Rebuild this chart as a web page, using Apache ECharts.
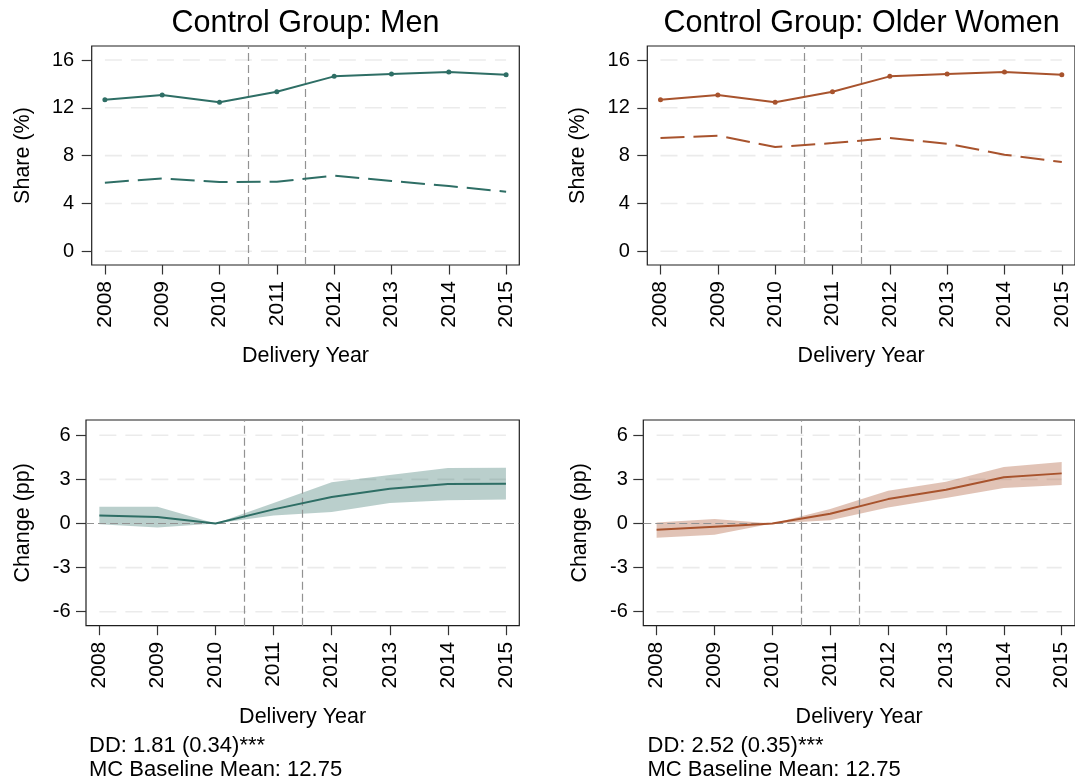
<!DOCTYPE html>
<html>
<head>
<meta charset="utf-8">
<script src="https://cdn.jsdelivr.net/npm/echarts@6/dist/echarts.min.js"></script>
<style>
  html, body { margin: 0; padding: 0; background: #fff; }
  #chart { width: 1075px; height: 782px; }
</style>
</head>
<body>
<div id="chart"></div>
<script>
// Delivery years and axis ticks
const years = [2008, 2009, 2010, 2011, 2012, 2013, 2014, 2015];
const shareTicks = [0, 4, 8, 12, 16];
const changeTicks = [-6, -3, 0, 3, 6];
const changeGridVals = [-6, -3, 3, 6];
const policyYears = [2010.5, 2011.5];

// Share (%) — treated group (solid) and the two control groups (dashed)
const treatedShare = [12.68, 13.07, 12.46, 13.35, 14.63, 14.82, 14.99, 14.77];
const menShare = [5.74, 6.10, 5.79, 5.82, 6.32, 5.88, 5.46, 4.98];
const olderWomenShare = [9.47, 9.67, 8.72, 9.05, 9.47, 9.00, 8.08, 7.47];

// Change (pp) relative to 2010, with confidence bands
const menChange = [0.55, 0.44, 0, 0.96, 1.80, 2.37, 2.68, 2.71];
const menLow = [-0.05, -0.27, 0, 0.55, 0.78, 1.39, 1.59, 1.64];
const menHigh = [1.14, 1.14, 0, 1.40, 2.80, 3.30, 3.78, 3.80];
const womenChange = [-0.43, -0.22, 0, 0.66, 1.66, 2.30, 3.14, 3.41];
const womenLow = [-0.97, -0.77, 0, 0.23, 1.09, 1.73, 2.41, 2.62];
const womenHigh = [0.07, 0.30, 0, 0.98, 2.23, 2.84, 3.84, 4.18];

const panelTitles = ['Control Group: Men', 'Control Group: Older Women'];
const notesMen = ['DD: 1.81 (0.34)***', 'MC Baseline Mean: 12.75'];
const notesWomen = ['DD: 2.52 (0.35)***', 'MC Baseline Mean: 12.75'];

const FONT = 'Liberation Sans, Arial, Helvetica, sans-serif';
const GREEN = '#2e6e65';
const ORANGE = '#a8532d';
const GREEN_BAND = 'rgba(46,110,101,0.33)';
const ORANGE_BAND = 'rgba(168,83,45,0.35)';
const X_MIN = 2007.77, X_MAX = 2015.23;

const grids = [
  { left: 91.7, top: 46, width: 427.6, height: 219 },
  { left: 647.3, top: 46, width: 428.6, height: 219 },
  { left: 86, top: 420, width: 433.3, height: 205.7 },
  { left: 643.3, top: 420, width: 432.7, height: 205.7 }
].map(g => Object.assign(g, {
  show: true, borderColor: '#1e1e1e', borderWidth: 1.2, backgroundColor: '#fff', containLabel: false
}));

function xAxis(gi) {
  return {
    type: 'value', gridIndex: gi, min: X_MIN, max: X_MAX, position: 'bottom',
    name: 'Delivery Year', nameLocation: 'middle', nameGap: 80,
    nameTextStyle: { fontFamily: FONT, fontSize: 21.5, color: '#000' },
    axisLine: { show: false, onZero: false },
    axisTick: { show: true, customValues: years, length: 9.5, inside: false,
      lineStyle: { color: '#333', width: 1.2 } },
    axisLabel: { show: true, customValues: years, rotate: 90, margin: 16,
      fontFamily: FONT, fontSize: 21, color: '#000', formatter: v => String(v) },
    splitLine: { show: false }
  };
}

function yAxis(gi, min, max, ticks, name, nameGap, margin) {
  return {
    type: 'value', gridIndex: gi, min: min, max: max, position: 'left',
    name: name, nameLocation: 'middle', nameRotate: 90, nameGap: nameGap,
    nameTextStyle: { fontFamily: FONT, fontSize: 21.5, color: '#000' },
    axisLine: { show: false, onZero: false },
    axisTick: { show: true, customValues: ticks, length: 10, inside: false,
      lineStyle: { color: '#333', width: 1.2 } },
    axisLabel: { show: true, customValues: ticks, margin: margin,
      fontFamily: FONT, fontSize: 20, color: '#000', formatter: v => String(v) },
    splitLine: { show: false }
  };
}

const pairs = arr => years.map((y, i) => [y, arr[i]]);

function gridLines(gi, values) {
  return values.map(v => ({
    type: 'line', xAxisIndex: gi, yAxisIndex: gi, silent: true, z: 1,
    symbol: 'none', animation: false,
    data: [[years[0], v], [years[years.length - 1], v]],
    lineStyle: { color: '#ebebeb', width: 1.6, type: [17, 9] }
  }));
}

function refLines(gi, withZero) {
  const data = policyYears.map(x => ({ xAxis: x }));
  if (withZero) data.push({ yAxis: 0 });
  return [{
    type: 'line', xAxisIndex: gi, yAxisIndex: gi, data: [], z: 2, silent: true,
    markLine: {
      silent: true, symbol: 'none', animation: false, label: { show: false },
      lineStyle: { color: '#929292', width: 1.2, type: [8, 4] },
      data: data
    }
  }];
}

function shareSeries(gi, controlVals, color) {
  return [
    { type: 'line', xAxisIndex: gi, yAxisIndex: gi, z: 5, data: pairs(treatedShare),
      symbol: 'circle', symbolSize: 5, itemStyle: { color: color },
      lineStyle: { color: color, width: 2 } },
    { type: 'line', xAxisIndex: gi, yAxisIndex: gi, z: 5, data: pairs(controlVals),
      symbol: 'none', lineStyle: { color: color, width: 2, type: [24, 9] } }
  ];
}

// Confidence band drawn as one polygon through the axis scales
function bandSeries(gi, lo, hi, fill) {
  const rows = years.map((y, i) => [y, lo[i], hi[i]]);
  return {
    type: 'custom', xAxisIndex: gi, yAxisIndex: gi, z: 3, silent: true,
    data: rows, encode: { x: 0, y: [1, 2] },
    renderItem: function (params, api) {
      if (params.dataIndex !== 0) return null;
      const upper = rows.map(r => api.coord([r[0], r[2]]));
      const lower = rows.map(r => api.coord([r[0], r[1]])).reverse();
      return { type: 'polygon', shape: { points: upper.concat(lower) },
        style: { fill: fill, stroke: null } };
    }
  };
}

function changeSeries(gi, est, lo, hi, color, band) {
  return [
    bandSeries(gi, lo, hi, band),
    { type: 'line', xAxisIndex: gi, yAxisIndex: gi, z: 5, data: pairs(est),
      symbol: 'none', lineStyle: { color: color, width: 2 } }
  ];
}

function textEl(x, y, text, size, align) {
  return { type: 'text', x: x, y: y, silent: true,
    style: { text: text, fontFamily: FONT, fontSize: size, fill: '#000',
      align: align, verticalAlign: 'middle' } };
}

const option = {
  animation: false,
  backgroundColor: '#fff',
  grid: grids,
  xAxis: [xAxis(0), xAxis(1), xAxis(2), xAxis(3)],
  yAxis: [
    yAxis(0, -1.146, 17.17, shareTicks, 'Share (%)', 58, 17.5),
    yAxis(1, -1.146, 17.17, shareTicks, 'Share (%)', 58, 17.5),
    yAxis(2, -6.95, 7.04, changeTicks, 'Change (pp)', 52, 15.5),
    yAxis(3, -6.95, 7.04, changeTicks, 'Change (pp)', 52, 15.5)
  ],
  series: [].concat(
    gridLines(0, shareTicks), refLines(0, false), shareSeries(0, menShare, GREEN),
    gridLines(1, shareTicks), refLines(1, false), shareSeries(1, olderWomenShare, ORANGE),
    gridLines(2, changeGridVals), refLines(2, true),
    changeSeries(2, menChange, menLow, menHigh, GREEN, GREEN_BAND),
    gridLines(3, changeGridVals), refLines(3, true),
    changeSeries(3, womenChange, womenLow, womenHigh, ORANGE, ORANGE_BAND)
  ),
  graphic: [
    textEl(305.5, 23.5, panelTitles[0], 30.5, 'center'),
    textEl(861.6, 23.5, panelTitles[1], 30.5, 'center'),
    textEl(89, 746.4, notesMen[0], 22, 'left'),
    textEl(89, 769.8, notesMen[1], 22, 'left'),
    textEl(647.5, 746.4, notesWomen[0], 22, 'left'),
    textEl(647.5, 769.8, notesWomen[1], 22, 'left')
  ]
};

const chart = echarts.init(document.getElementById('chart'), null, { renderer: 'canvas' });
chart.setOption(option);
</script>
</body>
</html>
